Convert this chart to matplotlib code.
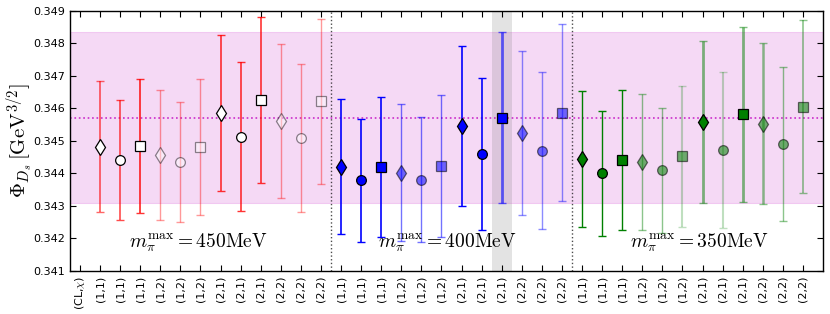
import matplotlib
matplotlib.use("Agg")
import matplotlib.pyplot as plt
import numpy as np

plt.rcParams['mathtext.fontset'] = 'cm'
plt.rcParams['font.family'] = ['DejaVu Sans']

# ---- data ----
tick_labels = [r'(CL,$\chi$)'] + (['(1,1)'] * 3 + ['(1,2)'] * 3 + ['(2,1)'] * 3 + ['(2,2)'] * 3) * 3

vals_450 = [0.344825, 0.344415, 0.344846, 0.344569, 0.344363, 0.344815,
            0.345852, 0.345132, 0.346262, 0.345625, 0.345092, 0.346222]
errs_450 = [0.00201, 0.00185, 0.00207, 0.00201, 0.00185, 0.00208,
            0.00240, 0.00229, 0.00256, 0.00237, 0.00227, 0.00254]

vals_400 = [0.344209, 0.343791, 0.344200, 0.344025, 0.343812, 0.344231,
            0.345462, 0.344600, 0.345717, 0.345256, 0.344702, 0.345871]
errs_400 = [0.00207, 0.00190, 0.00215, 0.00210, 0.00193, 0.00218,
            0.00245, 0.00235, 0.00263, 0.00252, 0.00242, 0.00272]

vals_350 = [0.344437, 0.344006, 0.344415, 0.344354, 0.344098, 0.344530,
            0.345585, 0.344723, 0.345821, 0.345533, 0.344898, 0.346055]
errs_350 = [0.00209, 0.00193, 0.00216, 0.00210, 0.00192, 0.00217,
            0.00250, 0.00239, 0.00269, 0.00248, 0.00237, 0.00266]

final_val = 0.345717
final_err = 0.00263
chosen_index = 21

region_labels = [r'$m_\pi^{\rm max}=450{\rm MeV}$',
                 r'$m_\pi^{\rm max}=400{\rm MeV}$',
                 r'$m_\pi^{\rm max}=350{\rm MeV}$']

# ---- styles ----
markers = ['d', 'o', 's']
# per region: (bar colour, marker face colour)
region_styles = [('r', 'white'), ('b', 'b'), ('g', 'g')]
# per point in region: marker alpha, bar alpha, bar lw
m_alpha = {
    0: [1, 1, 1, .45, .45, .45, 1, 1, 1, .45, .45, .45],
    1: [1, 1, 1, .55, .55, .55, 1, 1, 1, .55, .55, .55],
    2: [1, 1, 1, .55, .55, .55, 1, .55, 1, .55, .55, .55],
}
b_alpha = {
    0: [.6, .7, .8, .4, .4, .4, .8, .8, .8, .4, .4, .4],
    1: [1, 1, 1, .55, .55, .55, 1, 1, .6, .45, .45, .45],
    2: [1, 1, 1, .45, .45, .25, .5, .25, .5, .45, .45, .45],
}
b_lw = {
    0: [1.3, 1.2, 1.3, 1, 1, 1, 1.2, 1.2, 1.2, 1, 1, 1],
    1: [1.2, 1.2, 1.2, 1, 1, 1, 1.2, 1.2, 2, 1, 1, 1],
    2: [1.0, 1.0, 1.0, 1, 1, 1.5, 2, 1.5, 2, 1.8, 1, 1.2],
}

fig = plt.figure(figsize=(8.3, 3.14), dpi=100)
ax = fig.add_axes([0.0843, 0.137, 0.9073, 0.828])

ax.axhspan(final_val - final_err, final_val + final_err, facecolor='m', alpha=0.15,
           edgecolor='m', linewidth=0.8)
ax.axhline(final_val, color='m', linestyle=':', linewidth=1.2, alpha=0.8)
ax.axvspan(chosen_index - 0.5, chosen_index + 0.5, color='gray', alpha=0.22, linewidth=0)

all_vals = [vals_450, vals_400, vals_350]
all_errs = [errs_450, errs_400, errs_350]
for r in range(3):
    bc, fc = region_styles[r]
    for j in range(12):
        x = 1 + 12 * r + j
        ax.errorbar([x], [all_vals[r][j]], yerr=[all_errs[r][j]], fmt='none',
                    ecolor=bc, elinewidth=b_lw[r][j], capsize=2.8, capthick=1,
                    alpha=b_alpha[r][j], zorder=3)
        ms = 8.5 if markers[j % 3] == 'd' else 7
        ax.plot([x], [all_vals[r][j]], linestyle='none', marker=markers[j % 3],
                markersize=ms, markerfacecolor=fc, markeredgecolor='k',
                markeredgewidth=0.9, alpha=m_alpha[r][j], zorder=4)

for xv in (12.5, 24.5):
    ax.axvline(xv, color='k', linestyle=':', linewidth=1, alpha=0.7)

for xc, lab in zip((5.9, 18.3, 30.85), region_labels):
    ax.text(xc, 0.34186, lab, ha='center', va='center', fontsize=14, zorder=5)

ax.set_xlim(-0.5, 37)
ax.set_ylim(0.341, 0.349)
ax.set_xticks(np.arange(len(tick_labels)))
ax.set_xticklabels(tick_labels, rotation=90, fontsize=8)
ax.set_yticks(np.arange(0.341, 0.3491, 0.001))
ax.set_yticklabels(['%.3f' % v for v in np.arange(0.341, 0.3491, 0.001)], fontsize=8)
ax.tick_params(direction='in', top=True, right=True, length=4, width=0.8)
for s in ax.spines.values():
    s.set_linewidth(1)
ax.set_ylabel(r'$\Phi_{D_s}\,[\mathrm{GeV}^{3/2}]$', fontsize=15)
ax.yaxis.set_label_coords(-0.047, 0.5)

fig.savefig('out.png', dpi=100)
